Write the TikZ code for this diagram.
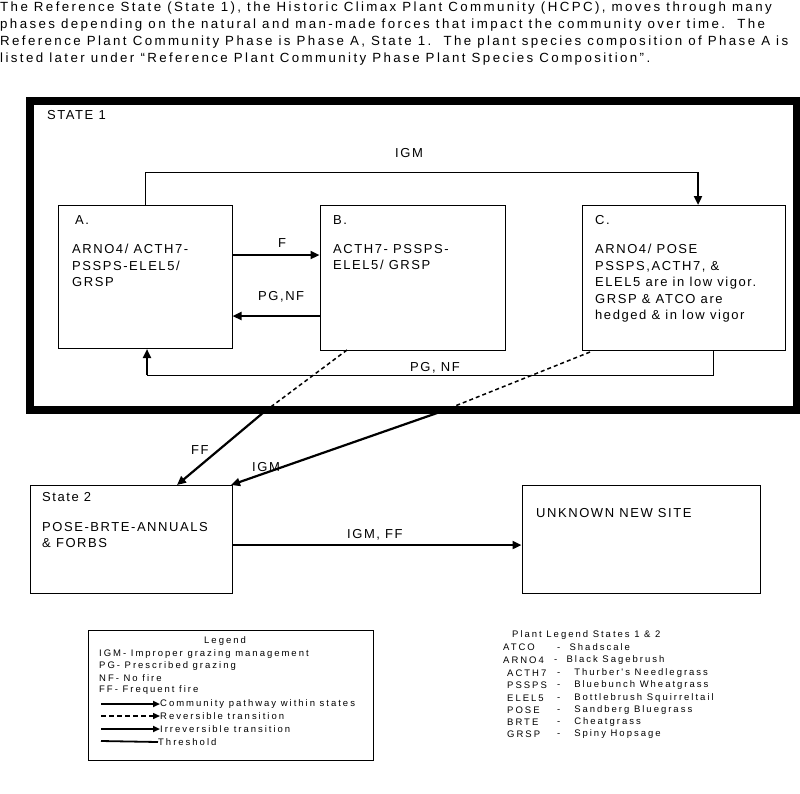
\documentclass[tikz,border=0pt]{standalone}
\usepackage{fontspec}
\setmainfont{Liberation Sans}
\newfontfamily\hdfont[LetterSpace=18]{Liberation Sans}
\newfontfamily\bdfont[LetterSpace=12]{Liberation Sans}
\newfontfamily\lgfont[LetterSpace=21]{Liberation Sans}
\usetikzlibrary{arrows.meta}
\begin{document}
\begin{tikzpicture}[x=1pt,y=-1pt,
  hd/.style={anchor=west,inner sep=0pt,font=\hdfont\fontsize{13.3}{17}\selectfont},
  txt/.style={anchor=west,inner sep=0pt,font=\bdfont\fontsize{13}{16.5}\selectfont},
  tiny/.style={anchor=west,inner sep=0pt,font=\lgfont\fontsize{9.5}{11}\selectfont},
  boxx/.style={draw,line width=1pt,inner sep=0pt},
  arr/.style={line width=2.2pt,-{Triangle[length=9pt,width=8pt]}},
  dsh/.style={line width=1.5pt,dash pattern=on 4pt off 3pt},
  thin/.style={line width=1pt}]
\useasboundingbox (0,0) rectangle (800,793);
\fill[white] (0,0) rectangle (800,793);
% header text
\node[hd] (h1) at (0,8) {The Reference State (State 1), the Historic Climax Plant Community (HCPC), moves through many};
\node[hd] (h2) at (0,25) {phases depending on the natural and man-made forces that impact the community over time.\ \ The};
\node[hd] (h3) at (0,42) {Reference Plant Community Phase is Phase A, State 1.\ \ The plant species composition of Phase A is};
\node[hd] (h4) at (0,59) {listed later under “Reference Plant Community Phase Plant Species Composition”.};
% state 1 frame
\draw[line width=8pt] (30,101) rectangle (797,410);
\node[txt] (s1) at (47,115) {STATE 1};
% boxes
\node[boxx,minimum width=174pt,minimum height=143pt] (A) at (145,276.5) {};
\node[boxx,minimum width=185pt,minimum height=145pt] (B) at (412.5,277.5) {};
\node[boxx,minimum width=203pt,minimum height=145pt] (C) at (683.5,277.5) {};
\node[txt] at (75,220) {A.};
\node[txt,align=left,anchor=north west] at (72,244) {ARNO4/ ACTH7-\\PSSPS-ELEL5/\\GRSP};
\node[txt] at (333,220) {B.};
\node[txt,align=left,anchor=north west] at (333,244) {ACTH7- PSSPS-\\ELEL5/ GRSP};
\node[txt] at (595,220) {C.};
\node[txt,align=left,anchor=north west] at (595,244) {ARNO4/ POSE\\PSSPS,ACTH7, \&\\ELEL5 are in low vigor.\\GRSP \& ATCO are\\hedged \& in low vigor};
% IGM top
\draw[thin] (A.north) |- (698,172) coordinate (t1);
\draw[arr] (t1) -- (698,205);
\node[txt] (igm1) at (395,153) {IGM};
% F and PG,NF
\draw[arr] (232,255) -- (B.west |- 0,255);
\node[txt] at (278,243) {F};
\draw[arr] (320,316) -- (A.east |- 0,316);
\node[txt] at (258,297) {PG,NF};
% bottom return
\draw[thin] (713,350) |- (147,375) coordinate (b1);
\draw[arr] (b1) -- (147,349);
\node[txt] at (410,368) {PG, NF};
% state 2 & unknown
\node[boxx,minimum width=202pt,minimum height=108pt] (S2) at (131,539) {};
\node[txt] at (42,497) {State 2};
\node[txt,align=left,anchor=north west] at (42,522) {POSE-BRTE-ANNUALS\\\& FORBS};
\node[boxx,minimum width=238pt,minimum height=108pt] (U) at (641,539) {};
\node[txt] at (536,513) {UNKNOWN NEW SITE};
\draw[arr] (S2.east |- 0,545) -- (U.west |- 0,545);
\node[txt] at (347,535) {IGM, FF};
% transitions
\draw[dsh] (347,350) -- (264,412) coordinate (m1);
\draw[arr] (m1) -- (177,485);
\draw[dsh] (590,352) -- (440,412) coordinate (m2);
\draw[arr] (m2) -- (231,485);
\node[txt] at (191,450) {FF};
\node[txt] at (252,467) {IGM};
% legend
\node[boxx,minimum width=285pt,minimum height=130pt] (L) at (230.5,695) {};
\node[tiny] at (204,641) {Legend};
\node[tiny] at (99,654) {IGM- Improper grazing management};
\node[tiny] at (99,666) {PG- Prescribed grazing};
\node[tiny] at (99,678) {NF- No fire};
\node[tiny] at (99,690) {FF- Frequent fire};
\node[tiny] (l1) at (160,704) {Community pathway within states};
\node[tiny] (l2) at (160,716) {Reversible transition};
\node[tiny] (l3) at (160,729) {Irreversible transition};
\node[tiny] (l4) at (158,742) {Threshold};
\draw[line width=1.8pt,-{Triangle[length=7pt,width=6pt]}] (101,704) -- (l1.west);
\draw[line width=1.5pt,dash pattern=on 5pt off 3pt,-{Triangle[length=7pt,width=6pt]}] (101,716) -- (l2.west);
\draw[line width=1.8pt,-{Triangle[length=7pt,width=6pt]}] (101,729) -- (l3.west);
\draw[line width=1.8pt] (101,741) -- (l4.west);
% plant legend
\node[tiny] at (512,635) {Plant Legend States 1 \& 2};
\node[tiny] at (503,647) {ATCO};      \node[tiny] at (557,647) {-\ \ Shadscale};
\node[tiny] at (503,660) {ARNO4};     \node[tiny] at (554,660) {-\ \ Black Sagebrush};
\node[tiny] at (507,673) {ACTH7};     \node[tiny] at (557,673) {-\ \ \ Thurber's Needlegrass};
\node[tiny] at (507,685) {PSSPS};     \node[tiny] at (557,685) {-\ \ \ Bluebunch Wheatgrass};
\node[tiny] at (507,698) {ELEL5};     \node[tiny] at (557,698) {-\ \ \ Bottlebrush Squirreltail};
\node[tiny] at (507,710) {POSE};      \node[tiny] at (557,710) {-\ \ \ Sandberg Bluegrass};
\node[tiny] at (507,722) {BRTE};      \node[tiny] at (557,722) {-\ \ \ Cheatgrass};
\node[tiny] at (507,734) {GRSP};      \node[tiny] at (557,734) {-\ \ \ Spiny Hopsage};
\end{tikzpicture}
\end{document}
